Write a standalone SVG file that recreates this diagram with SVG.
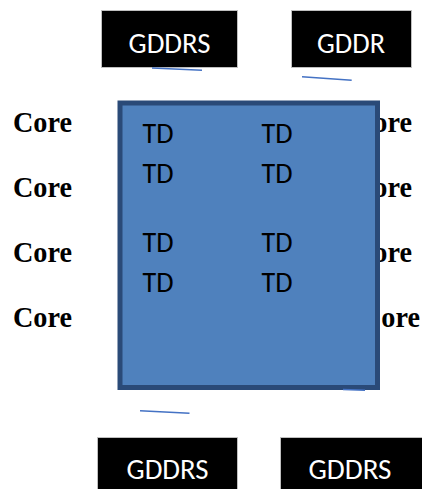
<svg xmlns="http://www.w3.org/2000/svg" width="422" height="489" viewBox="0 0 422 489">
  <style>
    .mem rect { fill: #000000; stroke: #bfbfbf; stroke-width: 1; }
    .mem text { fill: #ffffff; font-family: Carlito, Lato, "Liberation Sans", sans-serif; font-size: 28px; text-anchor: middle; }
    .core { font-family: "Liberation Serif", serif; font-weight: bold; font-size: 29.5px; fill: #000000; }
    .td { font-family: Carlito, Lato, "Liberation Sans", sans-serif; font-size: 28px; fill: #000000; }
    .link { stroke: #4472c4; stroke-width: 1.6; fill: none; }
  </style>

  <!-- core labels on the right sit partly under the chip -->
  <g id="core-right">
    <text class="core" x="353" y="131.5" textLength="59" lengthAdjust="spacingAndGlyphs">Core</text>
    <text class="core" x="353" y="196.5" textLength="59" lengthAdjust="spacingAndGlyphs">Core</text>
    <text class="core" x="353" y="261.5" textLength="59" lengthAdjust="spacingAndGlyphs">Core</text>
    <text class="core" x="361" y="326.5" textLength="59" lengthAdjust="spacingAndGlyphs">Core</text>
  </g>

  <g id="core-left">
    <text class="core" x="13" y="131.5" textLength="59" lengthAdjust="spacingAndGlyphs">Core</text>
    <text class="core" x="13" y="196.5" textLength="59" lengthAdjust="spacingAndGlyphs">Core</text>
    <text class="core" x="13" y="261.5" textLength="59" lengthAdjust="spacingAndGlyphs">Core</text>
    <text class="core" x="13" y="326.5" textLength="59" lengthAdjust="spacingAndGlyphs">Core</text>
  </g>

  <!-- central chip with thread dispatchers -->
  <g id="chip">
    <rect x="120" y="103" width="257.5" height="284.5" fill="#4f81bd" stroke="#2a4a78" stroke-width="5"/>
    <text class="td" x="142.5" y="143.3" textLength="31" lengthAdjust="spacingAndGlyphs">TD</text>
    <text class="td" x="261.5" y="143.3" textLength="31" lengthAdjust="spacingAndGlyphs">TD</text>
    <text class="td" x="142.5" y="183.3" textLength="31" lengthAdjust="spacingAndGlyphs">TD</text>
    <text class="td" x="261.5" y="183.3" textLength="31" lengthAdjust="spacingAndGlyphs">TD</text>
    <text class="td" x="142.5" y="251.7" textLength="31" lengthAdjust="spacingAndGlyphs">TD</text>
    <text class="td" x="261.5" y="251.7" textLength="31" lengthAdjust="spacingAndGlyphs">TD</text>
    <text class="td" x="142.5" y="291.7" textLength="31" lengthAdjust="spacingAndGlyphs">TD</text>
    <text class="td" x="261.5" y="291.7" textLength="31" lengthAdjust="spacingAndGlyphs">TD</text>
  </g>

  <g id="mem-top-left" class="mem">
    <rect x="101.5" y="10.5" width="136" height="57"/>
    <text x="169.5" y="53.3" textLength="82" lengthAdjust="spacingAndGlyphs">GDDRS</text>
  </g>
  <g id="mem-top-right" class="mem">
    <rect x="291.5" y="10.5" width="120" height="57"/>
    <text x="351" y="53.3" textLength="68" lengthAdjust="spacingAndGlyphs">GDDR</text>
  </g>
  <g id="mem-bottom-left" class="mem">
    <rect x="97.5" y="437.5" width="140" height="60"/>
    <text x="167.5" y="479" textLength="82" lengthAdjust="spacingAndGlyphs">GDDRS</text>
  </g>
  <g id="mem-bottom-right" class="mem">
    <rect x="280.5" y="437.5" width="145" height="60"/>
    <text x="350" y="479" textLength="83" lengthAdjust="spacingAndGlyphs">GDDRS</text>
  </g>

  <!-- short connector strokes -->
  <g id="connectors">
    <line class="link" x1="152" y1="68" x2="202" y2="70.3"/>
    <line class="link" x1="302" y1="76.7" x2="351.7" y2="80.3"/>
    <line class="link" x1="140" y1="410.7" x2="189.5" y2="413.3"/>
    <line class="link" x1="343" y1="389.5" x2="365" y2="390.3"/>
  </g>
</svg>
